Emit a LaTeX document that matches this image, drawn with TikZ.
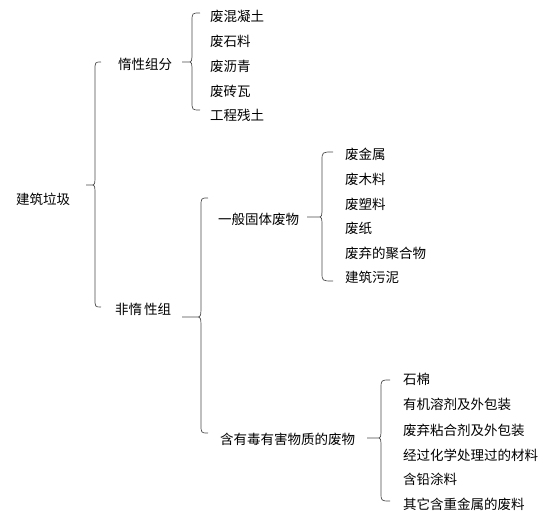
\documentclass[tikz,border=0pt]{standalone}
\usepackage{fontspec}
\newfontfamily\cjk{Noto Sans CJK SC}
\usetikzlibrary{positioning}

% word-like curly brace: ends x, top y, bottom y, spine x, tip x, tip y, tip bend
\newcommand{\wbrace}[7]{%
  \draw[brc] (#1,#2) .. controls (#4,#2) .. (#4,{#2+9}) -- (#4,{#6-#7})
    .. controls (#4,#6) .. ({#4-4},#6) -- (#5,#6) -- ({#4-4},#6)
    .. controls (#4,#6) .. (#4,{#6+#7}) -- (#4,{#3-9})
    .. controls (#4,#3) .. (#1,#3);}

\tikzset{
  lbl/.style={anchor=west, inner sep=0pt, font=\cjk\fontsize{13.5}{16}\selectfont},
  brc/.style={draw=black!70, line width=0.7pt}
}

\begin{document}
\begin{tikzpicture}[x=1pt, y=-1pt]
      \useasboundingbox[fill=white] (0,0) rectangle (558,513);

      % top levels
      \node[lbl] (root) at (16,199) {建筑垃圾};
      \node[lbl] (inert) at (118,64) {惰性组分};
      \node[lbl] (noninert) at (115,309) {非惰\hspace{2pt}性组};
      \node[lbl] (general) at (218,219) {一般固体废物};
      \node[lbl] (toxic) at (220,439) {含有毒有害物质的废物};

      % inert components
      \node[lbl] (c1) at (210,16) {废混凝土};
      \node[lbl] (c2) at (210,41) {废石料};
      \node[lbl] (c3) at (210,66) {废沥青};
      \node[lbl] (c4) at (210,91) {废砖瓦};
      \node[lbl] (c5) at (210,115) {工程残土};

      % general solid waste
      \node[lbl] (g1) at (345,154) {废金属};
      \node[lbl] (g2) at (345,179) {废木料};
      \node[lbl] (g3) at (345,204) {废塑料};
      \node[lbl] (g4) at (345,228) {废纸};
      \node[lbl] (g5) at (345,253) {废弃的聚合物};
      \node[lbl] (g6) at (345,277) {建筑污泥};

      % toxic waste
      \node[lbl] (t1) at (403,379) {石棉};
      \node[lbl] (t2) at (403,404) {有机溶剂及外包装};
      \node[lbl] (t3) at (403,430) {废弃粘合剂及外包装};
      \node[lbl] (t4) at (403,455) {经过化学处理过的材料};
      \node[lbl] (t5) at (403,479) {含铅涂料};
      \node[lbl] (t6) at (403,504) {其它含重金属的废料};

      % braces
      \wbrace{101}{62}{307}{95}{86}{185}{12}
      \wbrace{200}{13}{110}{192}{182}{62}{11}
      \wbrace{208}{198}{433}{201}{182}{317}{15}
      \wbrace{333}{152}{281}{322}{307}{217}{11}
      \wbrace{390}{380}{501}{381}{367}{438}{11}
    \end{tikzpicture}
\end{document}
